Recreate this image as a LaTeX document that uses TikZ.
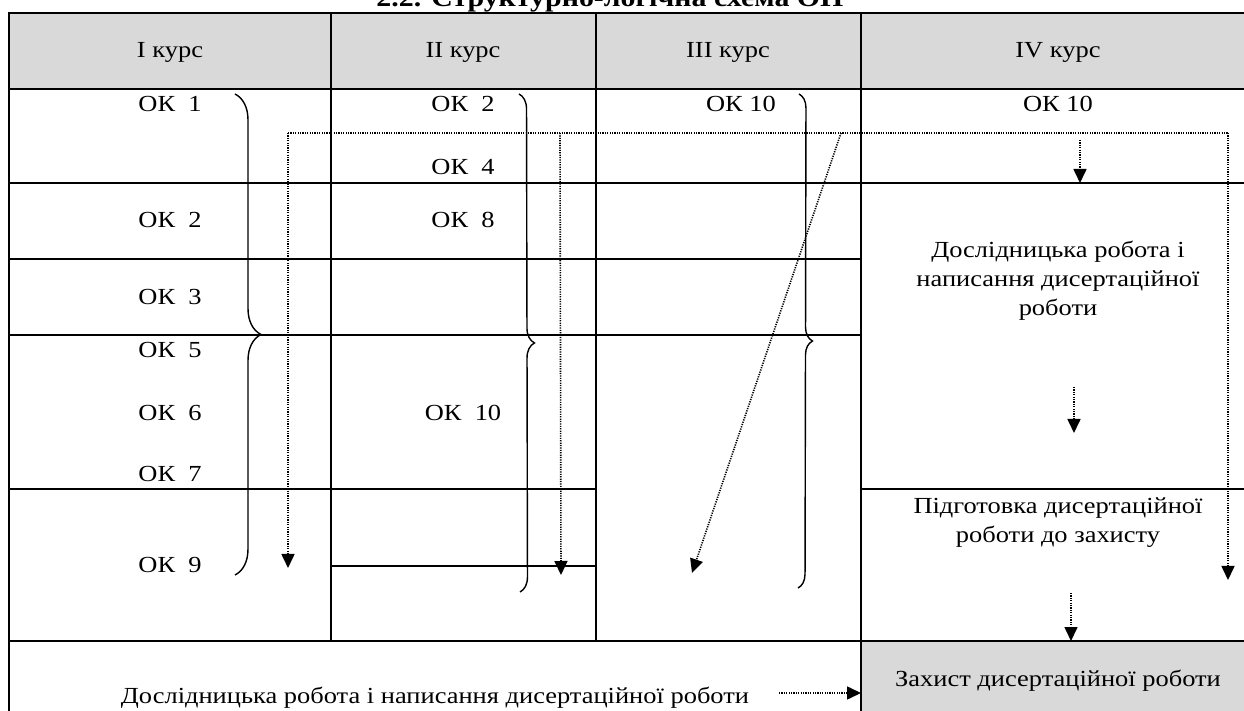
\documentclass[tikz,border=0pt]{standalone}
\usepackage{fontspec}
\setmainfont{Liberation Serif}[FakeStretch=1.15]
\usetikzlibrary{arrows.meta, decorations.pathreplacing}
\definecolor{cellgray}{HTML}{D9D9D9}
\tikzstyle{grid} = [line width=1.2pt]
\tikzstyle{dotline} = [line width=0.8pt, dash pattern=on 0.6pt off 0.6pt]
\tikzstyle{dotarrow} = [dotline, -{Triangle[length=7pt,width=6.5pt]}]
\tikzset{curly/.style={line width=0.7pt, decorate, decoration={brace, amplitude=#1}}}

\begin{document}
\begin{tikzpicture}[x=0.5pt, y=-0.5pt,
	every node/.style={font=\fontsize{11.5}{14.5}\selectfont, inner sep=0pt, anchor=base}]
	\useasboundingbox (0,0) rectangle (1244,711);
	% shaded cells
	\fill[cellgray] (8.7,13) rectangle (1260,89);
	\fill[cellgray] (861,641) rectangle (1260,720);
	% table rules
	\draw[grid] (8.7,720) -- (8.7,13) -- (1260,13);
	\foreach \y in {89,183,641}
		\draw[grid] (8.7,\y) -- (1260,\y);
	\foreach \y in {259,335}
		\draw[grid] (8.7,\y) -- (861,\y);
	\draw[grid] (8.7,489) -- (596,489) (861,489) -- (1260,489);
	\draw[grid] (330.7,566) -- (596,566);
	\foreach \x in {330.7,596}
		\draw[grid] (\x,13) -- (\x,641);
	\draw[grid] (861,13) -- (861,720);
	
	\node[font=\fontsize{13}{15}\selectfont\bfseries] (title) at (610,7) {2.2. Структурно-логічна схема ОП};
	
	\node (h1) at (170,58) {I курс};
	\node (h2) at (463,58) {II курс};
	\node (h3) at (728,58) {III курс};
	\node (h4) at (1058,58) {IV курс};
	
	\node (c1a) at (170,112) {ОК\ \ 1};
	\node (c1b) at (170,228) {ОК\ \ 2};
	\node (c1c) at (170,305) {ОК\ \ 3};
	\node (c1d) at (170,358) {ОК\ \ 5};
	\node (c1e) at (170,421) {ОК\ \ 6};
	\node (c1f) at (170,481) {ОК\ \ 7};
	\node (c1g) at (170,573) {ОК\ \ 9};
	
	\node (c2a) at (463,112) {ОК\ \ 2};
	\node (c2b) at (463,175) {ОК\ \ 4};
	\node (c2c) at (463,228) {ОК\ \ 8};
	\node (c2d) at (463,421) {ОК\ \ 10};
	
	\node (c3a) at (741,112) {ОК 10};
	\node (c4a) at (1058,112) {ОК 10};
	
	\node[anchor=center, align=center] (res) at (1058,281) {Дослідницька робота і\\написання дисертаційної\\роботи};
	\node[anchor=center, align=center] (prep) at (1058,523) {Підготовка дисертаційної\\роботи до захисту};
	\node (def) at (1058,686) {Захист дисертаційної роботи};
	\node (all) at (435,704) {Дослідницька робота і написання дисертаційної роботи};
	
	% braces
	\draw[curly=13pt] (235,94) -- (235,575);
	\draw[curly=7.5pt] (519,94) -- (520,592);
	\draw[curly=7pt] (799,94) -- (798,588);
	
	% dotted links
	\coordinate (s1) at (288,133);
	\coordinate (s2) at (560,133);
	\coordinate (s3) at (841,133);
	\coordinate (s4) at (1228,133);
	\coordinate (e1) at (288,568);
	\coordinate (e2) at (561,575);
	\coordinate (e3) at (692,573);
	\coordinate (e4) at (1228,580);
	\draw[dotline] (s1) -- (s4);
	\draw[dotarrow] (s1) -- (e1);
	\draw[dotarrow] (s2) -- (e2);
	\draw[dotarrow] (s3) -- (e3);
	\draw[dotarrow] (s4) -- (e4);
	
	\coordinate (f1) at (1080,140);
	\coordinate (t1) at (1080,183);
	\coordinate (f2) at (1074,387);
	\coordinate (t2) at (1074,433);
	\coordinate (f3) at (1071,593);
	\coordinate (t3) at (1071,641);
	\coordinate (f4) at (779,693);
	\coordinate (t4) at (861,693);
	\draw[dotarrow] (f1) -- (t1);
	\draw[dotarrow] (f2) -- (t2);
	\draw[dotarrow] (f3) -- (t3);
	\draw[dotarrow] (f4) -- (t4);
\end{tikzpicture}
\end{document}
